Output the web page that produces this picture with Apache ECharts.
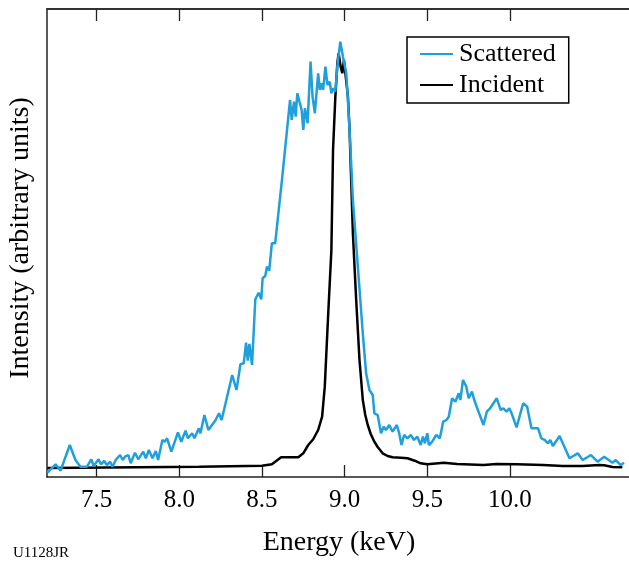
<!DOCTYPE html>
<html>
<head>
<meta charset="utf-8">
<script src="https://cdn.jsdelivr.net/npm/echarts@6/dist/echarts.min.js"></script>
<style>
html,body{margin:0;padding:0;background:#fff;}
#chart{width:629px;height:566px;}
</style>
</head>
<body>
<div id="chart"></div>
<script>
const tickValues = [7.5, 8.0, 8.5, 9.0, 9.5, 10.0];

const scatteredEnergy = [7.202,7.252,7.282,7.338,7.372,7.402,7.442,7.468,7.482,7.512,7.526,7.546,7.562,7.582,7.596,7.618,7.642,7.658,7.672,7.692,7.706,7.732,7.752,7.782,7.798,7.816,7.838,7.858,7.872,7.898,7.912,7.926,7.952,7.992,8.012,8.038,8.052,8.078,8.092,8.118,8.128,8.152,8.176,8.220,8.240,8.256,8.280,8.320,8.346,8.370,8.390,8.404,8.414,8.424,8.440,8.460,8.480,8.496,8.504,8.520,8.530,8.544,8.560,8.580,8.620,8.630,8.670,8.680,8.694,8.704,8.714,8.740,8.750,8.760,8.776,8.794,8.806,8.820,8.840,8.850,8.860,8.870,8.884,8.896,8.910,8.920,8.930,8.944,8.956,8.974,8.990,9.010,9.020,9.036,9.050,9.080,9.110,9.130,9.150,9.170,9.180,9.200,9.220,9.236,9.250,9.270,9.290,9.316,9.330,9.344,9.360,9.380,9.400,9.420,9.440,9.460,9.474,9.486,9.500,9.510,9.530,9.554,9.576,9.596,9.616,9.630,9.650,9.670,9.690,9.700,9.716,9.736,9.750,9.770,9.784,9.810,9.840,9.860,9.880,9.900,9.920,9.944,9.960,9.980,9.996,10.010,10.040,10.080,10.104,10.130,10.170,10.190,10.210,10.230,10.244,10.260,10.300,10.360,10.410,10.440,10.490,10.530,10.570,10.620,10.640,10.670,10.690];
const scatteredIntensity = [0.92,2.71,1.35,6.84,3.63,2.20,2.20,3.78,2.35,3.78,2.71,3.42,2.56,3.27,2.20,3.78,4.70,3.63,4.34,4.70,2.93,5.19,3.78,5.41,4.00,5.77,4.00,5.56,3.63,7.91,7.54,8.27,5.41,9.55,7.54,9.89,8.27,9.34,8.27,10.41,9.34,13.25,10.04,12.18,13.61,12.18,15.75,21.80,18.59,24.08,24.30,28.70,24.85,28.42,23.93,37.97,39.38,37.97,42.46,42.95,44.94,44.09,49.94,49.94,63.11,63.11,80.56,76.29,80.20,77.00,82.00,78.43,74.15,78.79,75.59,88.75,81.27,77.72,86.27,82.70,84.13,82.70,87.68,83.77,84.48,82.00,83.06,82.34,87.68,93.02,89.82,86.27,80.56,69.88,59.19,44.94,30.71,22.16,18.59,17.52,13.61,13.25,9.34,10.75,10.04,11.11,9.68,11.11,9.34,6.84,8.98,8.27,8.98,7.91,8.61,6.84,8.61,7.20,9.34,6.84,7.54,8.98,8.27,11.82,12.18,12.89,16.82,16.09,17.89,16.45,20.73,19.30,16.82,18.23,16.45,13.95,11.11,13.95,14.68,15.75,16.82,14.32,14.68,13.95,14.68,13.61,10.62,15.75,15.02,10.41,10.41,8.27,7.91,7.20,7.91,6.62,8.76,4.00,5.06,3.63,4.70,3.27,4.34,3.06,3.63,2.56,3.06];

const incidentEnergy = [7.202,8.120,8.500,8.560,8.616,8.720,8.750,8.780,8.810,8.840,8.864,8.880,8.900,8.920,8.930,8.944,8.956,8.964,8.976,8.986,8.996,9.006,9.020,9.030,9.050,9.070,9.090,9.110,9.125,9.140,9.158,9.180,9.200,9.230,9.260,9.290,9.340,9.380,9.424,9.460,9.500,9.600,9.680,9.840,9.920,10.040,10.200,10.320,10.440,10.540,10.570,10.620,10.680];
const incidentIntensity = [1.92,2.20,2.41,2.71,4.21,4.21,5.06,6.84,8.06,10.04,12.89,19.30,34.26,48.51,69.88,81.27,88.41,90.55,87.68,86.27,89.11,88.75,81.27,74.15,52.08,37.82,25.00,16.45,13.25,11.11,9.19,7.54,6.41,5.06,4.49,4.21,4.10,4.00,3.48,2.93,2.71,3.06,2.78,2.56,2.78,2.71,2.56,2.35,2.35,2.56,2.50,2.14,2.07];

const seriesNames = ['Scattered', 'Incident'];
const blue = '#1f9fdc';

function pairs(xs, ys) { return xs.map((x, i) => [x, ys[i]]); }

const chart = echarts.init(document.getElementById('chart'), null, {renderer: 'canvas'});
const serif = 'Liberation Serif, Times New Roman, serif';

const option = {
  animation: false,
  backgroundColor: '#ffffff',
  grid: {left: 47, top: 9, right: -4.5, bottom: 89, containLabel: false},
  legend: {
    data: seriesNames,
    orient: 'vertical',
    left: 407, top: 37,
    padding: [4, 13, 5, 13],
    itemGap: 5,
    itemWidth: 33,
    itemHeight: 2,
    icon: 'rect',
    borderColor: '#000',
    borderWidth: 1.5,
    textStyle: {fontFamily: serif, fontSize: 26, color: '#000', lineHeight: 26, padding: [0,0,0,1]}
  },
  xAxis: [
    {
      type: 'value', position: 'bottom', min: 7.2, max: 10.72,
      axisLine: {show: true, lineStyle: {color: '#222', width: 1.5}},
      axisTick: {show: true, inside: true, length: 12, customValues: tickValues, lineStyle: {color: '#222', width: 1.3}},
      axisLabel: {show: true, customValues: tickValues, margin: 11, fontFamily: serif, fontSize: 25, color: '#000',
        formatter: v => v.toFixed(1)},
      splitLine: {show: false}
    },
    {
      type: 'value', position: 'top', min: 7.2, max: 10.72,
      axisLine: {show: true, onZero: false, lineStyle: {color: '#333', width: 2}},
      axisTick: {show: true, inside: true, length: 12, customValues: tickValues, lineStyle: {color: '#222', width: 1.3}},
      axisLabel: {show: false},
      splitLine: {show: false}
    }
  ],
  yAxis: {
    type: 'value', min: 0, max: 100,
    axisLine: {show: true, lineStyle: {color: '#222', width: 1.5}},
    axisTick: {show: false}, axisLabel: {show: false}, splitLine: {show: false}
  },
  series: [
    {
      name: 'Incident', type: 'line', xAxisIndex: 0, data: pairs(incidentEnergy, incidentIntensity),
      showSymbol: false, symbol: 'none', color: '#000',
      lineStyle: {color: '#000', width: 2.5}, z: 2
    },
    {
      name: 'Scattered', type: 'line', xAxisIndex: 0, data: pairs(scatteredEnergy, scatteredIntensity),
      showSymbol: false, symbol: 'none', color: blue,
      lineStyle: {color: blue, width: 2.5}, z: 3
    }
  ],
  graphic: [
    {type: 'text', x: 21, y: 238, rotation: Math.PI / 2,
      style: {text: 'Intensity (arbitrary units)', fontFamily: serif, fontSize: 28, fill: '#000', align: 'center', verticalAlign: 'middle'}},
    {type: 'text', x: 339, y: 543,
      style: {text: 'Energy (keV)', fontFamily: serif, fontSize: 28, fill: '#000', align: 'center', verticalAlign: 'middle'}},
    {type: 'text', x: 13, y: 553,
      style: {text: 'U1128JR', fontFamily: serif, fontSize: 15, fill: '#000', align: 'left', verticalAlign: 'middle'}}
  ]
};
chart.setOption(option);
</script>
</body>
</html>
